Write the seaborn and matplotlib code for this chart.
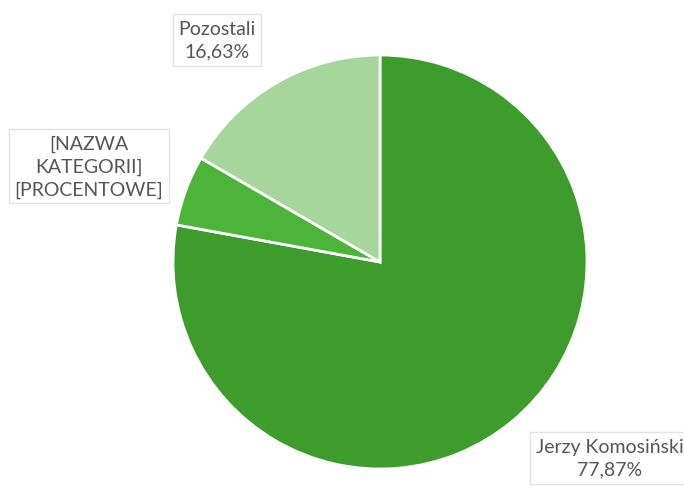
import matplotlib.pyplot as plt
import seaborn as sns

sns.set_style("white")
plt.rcParams['font.family'] = ['Lato', 'DejaVu Sans']

names = ['Jerzy Komosiński', '[NAZWA\nKATEGORII]', 'Pozostali']
shares = [77.87, 5.50, 16.63]
colors = ['#3d9c2c', '#4db43a', '#a6d69c']
label_text = ['Jerzy Komosiński\n77,87%', '[NAZWA\nKATEGORII]\n[PROCENTOWE]', 'Pozostali\n16,63%']
# label centres in pixel coords (y from bottom)
label_pos = [(610, 30), (89, 322), (217, 448)]

fig = plt.figure(figsize=(6.84, 4.89), dpi=100)
ax = fig.add_axes([0, 0, 1, 1])

ax.pie(shares, colors=colors, startangle=90, counterclock=False,
       center=(380, 226), radius=207,
       wedgeprops={'edgecolor': 'white', 'linewidth': 2})

for txt, (x, y) in zip(label_text, label_pos):
    ax.text(x, y, txt, ha='center', va='center', fontsize=14, color='#555555',
            linespacing=1.4,
            bbox=dict(boxstyle='square,pad=0.3', facecolor='white', edgecolor='#e2e2e2', linewidth=1))

ax.set_xlim(0, 684)
ax.set_ylim(0, 489)
ax.set_aspect('equal')
ax.axis('off')
fig.savefig('out.png', dpi=100)
